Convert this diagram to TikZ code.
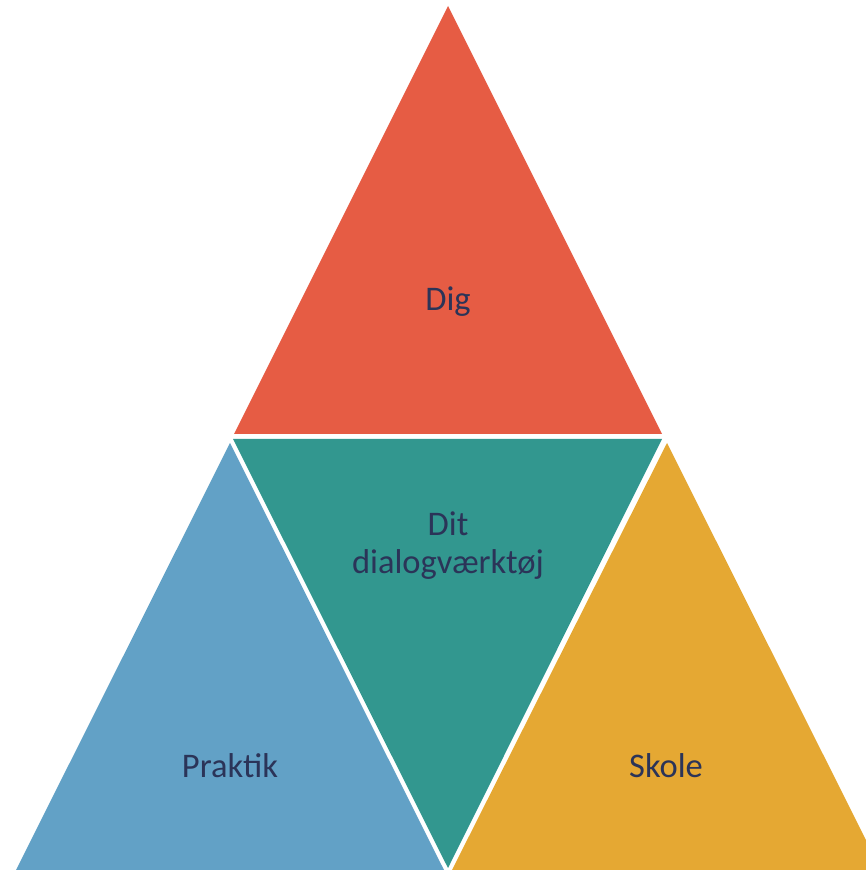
\documentclass[tikz,border=0pt]{standalone}
\usepackage{fontspec}
\setmainfont{Carlito}
\definecolor{cred}{HTML}{E65C44}
\definecolor{cteal}{HTML}{32978F}
\definecolor{cblue}{HTML}{62A1C6}
\definecolor{cyellow}{HTML}{E5A833}
\definecolor{ctext}{HTML}{2B3458}
\begin{document}
\begin{tikzpicture}[x=1pt,y=1pt,
  lbl/.style={text=ctext,font=\fontsize{34.5}{38}\selectfont,align=center}]
\useasboundingbox (0,0) rectangle (866,870);
\clip (0,0) rectangle (866,870);
% y_tikz = 870 - y_image
\fill[cred] (448,864) -- (234,436) -- (662,436) -- cycle;
\fill[cteal] (233,431) -- (662,431) -- (448,2) -- cycle;
\fill[cblue] (230,427) -- (16,0) -- (444,0) -- cycle;
\fill[cyellow] (667,427) -- (452,0) -- (881,0) -- cycle;
\node[lbl] (dig) at (448,568) {Dig};
\node[lbl] (dit) at (448,324) {Dit\\dialogværktøj};
\node[lbl] (praktik) at (230,104) {Praktik};
\node[lbl] (skole) at (666,104) {Skole};
\end{tikzpicture}
\end{document}
